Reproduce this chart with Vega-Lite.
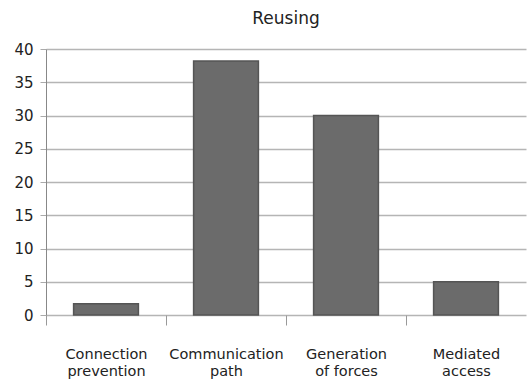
{
  "$schema": "https://vega.github.io/schema/vega-lite/v6.json",
  "width": 480,
  "height": 266,
  "autosize": {"type": "none"},
  "padding": {"left": 46, "top": 49, "right": 4, "bottom": 68},
  "background": "white",
  "title": {"text": "Reusing", "fontSize": 17, "font": "DejaVu Sans", "fontWeight": "normal", "color": "#222", "offset": 14, "anchor": "middle"},
  "data": {"values": [
    {"category": "Connection prevention", "value": 1.7},
    {"category": "Communication path", "value": 38.2},
    {"category": "Generation of forces", "value": 30},
    {"category": "Mediated access", "value": 5}
  ]},
  "mark": {"type": "bar", "color": "#6b6b6b", "stroke": "#555", "strokeWidth": 1.5},
  "encoding": {
    "x": {
      "field": "category", "type": "nominal", "sort": null,
      "scale": {"paddingInner": 0.46, "paddingOuter": 0.23},
      "axis": {
        "title": null, "labelAngle": 0, "tickOffset": -60, "labelOffset": 60,
        "labelExpr": "datum.label == 'Generation of forces' ? ['Generation', 'of forces'] : split(datum.label, ' ')",
        "labelFont": "DejaVu Sans", "labelFontSize": 14.5, "labelColor": "#222", "labelLineHeight": 17,
        "labelPadding": 22, "labelBaseline": "top",
        "tickSize": 10, "tickColor": "#999", "domain": false, "grid": false
      }
    },
    "y": {
      "field": "value", "type": "quantitative",
      "scale": {"domain": [0, 40], "nice": false},
      "axis": {
        "title": null, "values": [0, 5, 10, 15, 20, 25, 30, 35, 40],
        "labelFont": "DejaVu Sans", "labelFontSize": 15, "labelColor": "#222", "labelPadding": 7,
        "tickSize": 6, "tickColor": "#aaa", "domainColor": "#888", "grid": true, "gridColor": "#b5b5b5", "gridWidth": 1.3
      }
    }
  },
  "config": {"view": {"stroke": null}}
}
